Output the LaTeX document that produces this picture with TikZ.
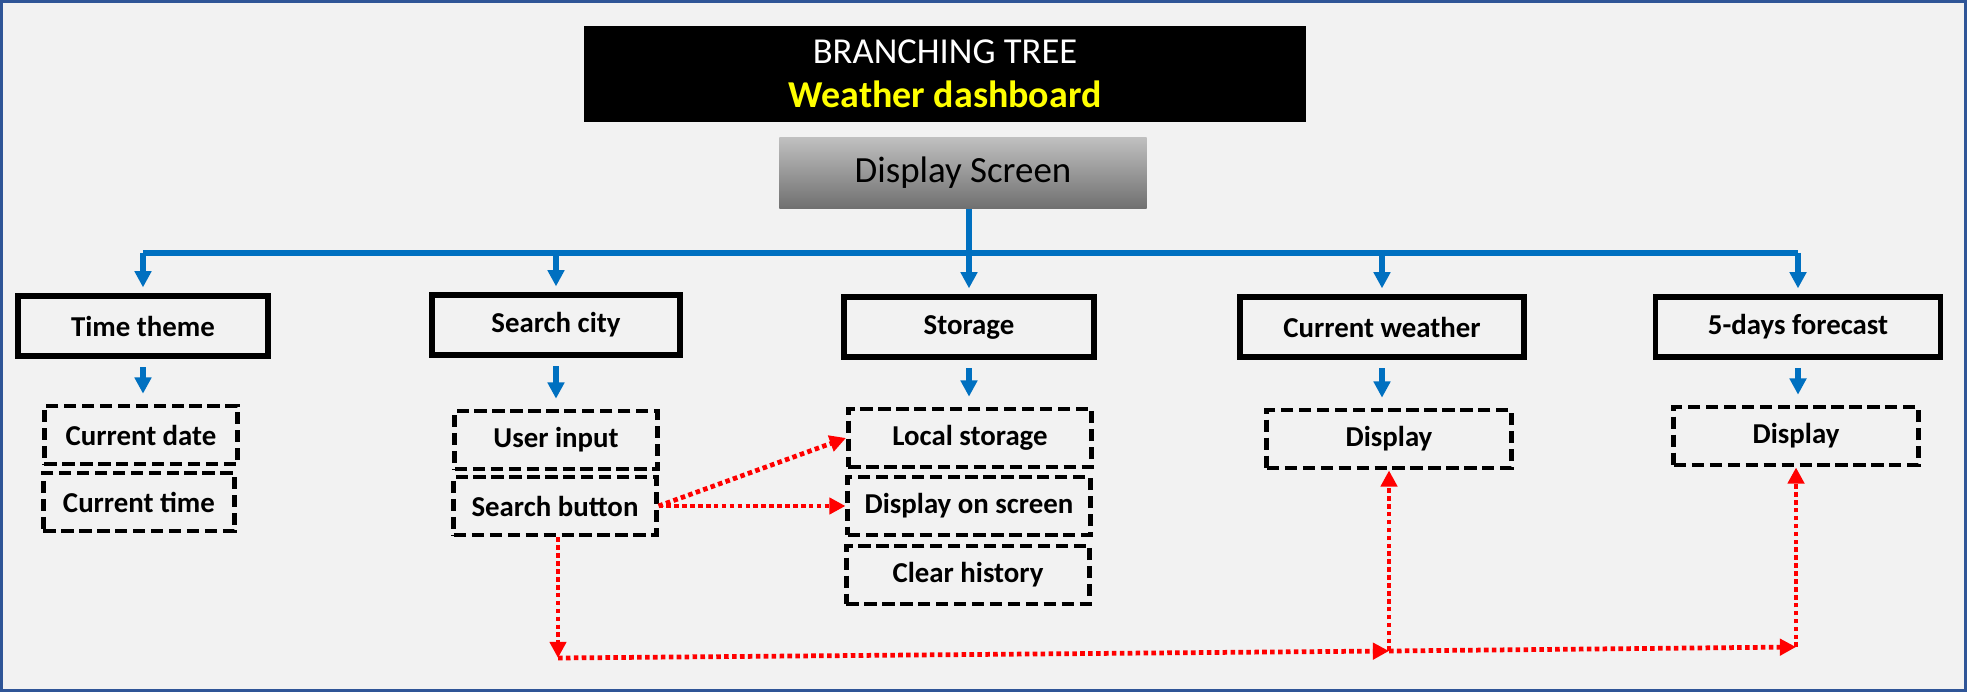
\documentclass[tikz,border=0pt]{standalone}
\usepackage{fontspec}
\setmainfont{Carlito}
\usepackage{tikz}
\usetikzlibrary{arrows.meta}
\usepackage{xcolor}
\definecolor{myblue}{RGB}{0,112,192}
\definecolor{myred}{RGB}{255,0,0}
\definecolor{myframe}{RGB}{47,85,151}
\definecolor{mybg}{RGB}{242,242,242}
\definecolor{myyellow}{RGB}{255,255,0}

\begin{document}
\begin{tikzpicture}[x=0.01cm,y=-0.01cm,
  mainbox/.style={draw, line width=1.5pt, minimum height=0.6cm, inner sep=0pt, font=\bfseries\fontsize{8.2}{10}\selectfont},
  subbox/.style={draw, line width=1.4pt, dash pattern=on 3.5pt off 1.6pt, minimum height=0.58cm, inner sep=0pt, font=\bfseries\fontsize{8.2}{10}\selectfont},
  bluearrow/.style={myblue, line width=1.5pt, -{Triangle[width=4.6pt,length=4.6pt]}},
  redarrow/.style={myred, line width=1.35pt, dash pattern=on 1.3pt off 0.95pt, -{Triangle[width=4.6pt,length=4.6pt]}}]
  \useasboundingbox (0,0) rectangle (1967,692);
  \draw[myframe, line width=0.8pt, fill=mybg] (1.4,1.4) rectangle (1965.6,690.6);

  \node[fill=black, minimum width=7.21cm, minimum height=0.96cm, inner sep=0pt, align=center, font=\fontsize{10.4}{12.5}\selectfont] (title) at (945,74)
    {\textcolor{white}{BRANCHING TREE}\\\textcolor{myyellow}{\bfseries\fontsize{10.8}{12.5}\selectfont Weather dashboard}};
  \node[top color=black!25, bottom color=black!56, minimum width=3.67cm, minimum height=0.7cm, inner sep=0pt, font=\fontsize{10.5}{12}\selectfont] (ds) at (963,173) {Display Screen};

  \node[mainbox, minimum width=2.5cm] (tt) at (143,326) {Time theme};
  \node[mainbox, minimum width=2.48cm] (sc) at (556,325) {Search city};
  \node[mainbox, minimum width=2.5cm] (st) at (969,327) {Storage};
  \node[mainbox, minimum width=2.84cm] (cw) at (1382,327) {Current weather};
  \node[mainbox, minimum width=2.85cm] (fd) at (1798,327) {5-days forecast};

  \node[subbox, minimum width=1.93cm] (cd) at (141,435) {Current date};
  \node[subbox, minimum width=1.91cm] (ct) at (139,502) {Current time};
  \node[subbox, minimum width=2.02cm] (ui) at (556,440) {User input};
  \node[subbox, minimum width=2.02cm] (sb) at (555,506) {Search button};
  \node[subbox, minimum width=2.43cm] (ls) at (970,438) {Local storage};
  \node[subbox, minimum width=2.42cm] (dos) at (969,506) {Display on screen};
  \node[subbox, minimum width=2.43cm] (ch) at (968,575) {Clear history};
  \node[subbox, minimum width=2.44cm] (dcw) at (1389,439) {Display};
  \node[subbox, minimum width=2.44cm] (dfd) at (1796,436) {Display};

  \coordinate (bus) at (0,253);
  \draw[bluearrow, shorten >=1.7pt] (ds.south -| st.north) -- (st.north);
  \draw[myblue, line width=1.5pt] (tt.north |- bus) -- (fd.north |- bus);
  \foreach \b in {tt,sc,cw,fd}
    \draw[bluearrow, shorten >=1.7pt] (\b.north |- bus) -- (\b.north);
  \foreach \a/\b in {tt/cd,sc/ui,st/ls,cw/dcw,fd/dfd}
    \draw[bluearrow, shorten <=2.5pt, shorten >=2.8pt] (\a.south) -- (\a.south |- \b.north);

  \coordinate (c1) at (558,658);
  \coordinate (c2) at (1389,651);
  \coordinate (c3) at (1796,647);
  \draw[redarrow] (sb.east) -- (ls.west);
  \draw[redarrow] (sb.east) -- (dos.west);
  \draw[redarrow] (c1 |- sb.south) -- (c1);
  \draw[redarrow] (c1) -- (c2);
  \draw[redarrow] (c2) -- (c3);
  \draw[redarrow] (c2) -- (dcw.south);
  \draw[redarrow] (c3) -- (dfd.south);
\end{tikzpicture}
\end{document}
